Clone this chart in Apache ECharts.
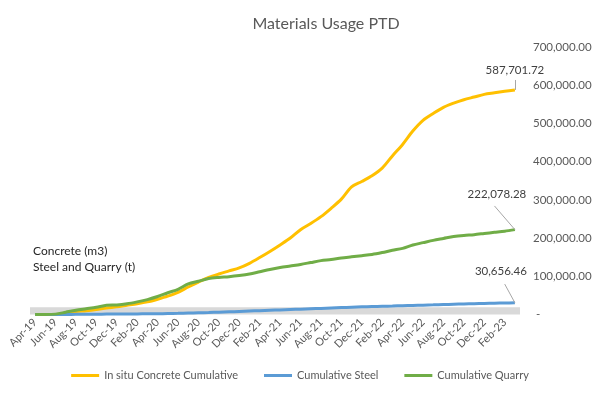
<!DOCTYPE html>
<html lang="en">

<head>
  <meta charset="UTF-8">
  <title>Materials Usage PTD</title>
  <script src="https://cdn.jsdelivr.net/npm/echarts@6/dist/echarts.min.js"></script>
</head>

<body style="margin:0;">
  <div id="main" style="width:600px;height:397px;background-color:#ffffff;"></div>
  <script type="text/javascript">
    // months Apr-19 .. Mar-23
    var months = ['Apr-19', 'May-19', 'Jun-19', 'Jul-19', 'Aug-19', 'Sep-19', 'Oct-19', 'Nov-19', 'Dec-19',
      'Jan-20', 'Feb-20', 'Mar-20', 'Apr-20', 'May-20', 'Jun-20', 'Jul-20', 'Aug-20', 'Sep-20', 'Oct-20', 'Nov-20', 'Dec-20',
      'Jan-21', 'Feb-21', 'Mar-21', 'Apr-21', 'May-21', 'Jun-21', 'Jul-21', 'Aug-21', 'Sep-21', 'Oct-21', 'Nov-21', 'Dec-21',
      'Jan-22', 'Feb-22', 'Mar-22', 'Apr-22', 'May-22', 'Jun-22', 'Jul-22', 'Aug-22', 'Sep-22', 'Oct-22', 'Nov-22', 'Dec-22',
      'Jan-23', 'Feb-23', 'Mar-23'];

    var concrete = [0, 0, 0, 3000, 8000, 10000, 13000, 17000, 20000,
      24000, 28000, 33000, 40000, 48000, 58000, 72000, 85000, 97000, 106000, 114000, 122000,
      134000, 149000, 165000, 182000, 200000, 222000, 238000, 256000, 278000, 302000, 334000, 348000,
      363000, 383000, 415000, 445000, 480000, 508000, 526000, 542000, 553000, 562000, 569000, 576000,
      580000, 584000, 587701.72];

    var steel = [0, 0, 0, 200, 400, 600, 800, 1000, 1200,
      1400, 1600, 1800, 2000, 2500, 3000, 3800, 4500, 5200, 6000, 7000, 8000,
      9000, 10000, 11000, 12000, 13000, 14000, 15000, 16000, 17000, 18000, 19000, 20000,
      20800, 21500, 22200, 23000, 23800, 24500, 25200, 26000, 26800, 27500, 28200, 29000,
      29600, 30100, 30656.46];

    var quarry = [0, 0, 1000, 6000, 11000, 15000, 19000, 24000, 25000,
      28000, 33000, 39000, 47000, 57000, 66000, 80000, 87000, 94000, 97000, 99000, 102000,
      106000, 112000, 118000, 123000, 127000, 131000, 136000, 141000, 144000, 148000, 151000, 154000,
      157000, 162000, 168000, 173000, 182000, 188000, 194000, 199000, 204000, 207000, 209000, 212000,
      215000, 218000, 222078.28];

    var txt = '#595959';
    var fontName = 'Lato';

    function fmt(v) {
      return v.toLocaleString('en-US', { minimumFractionDigits: 2, maximumFractionDigits: 2 });
    }

    // only the last point gets a label
    function lastLabelData(arr) {
      return arr.map(function (v, i) {
        if (i == arr.length - 1) {
          return { value: v, label: { show: true } };
        }
        return v;
      });
    }

    // label offset (px) and leader line end (category index, value rise)
    function lineSeries(name, arr, color, dx, dy, leadIdx, leadRise) {
      var last = arr.length - 1;
      return {
        name: name,
        type: 'line',
        data: lastLabelData(arr),
        smooth: 0.3,
        showSymbol: true,
        symbol: 'circle',
        symbolSize: 0,
        lineStyle: { color: color, width: 3 },
        itemStyle: { color: color },
        label: {
          show: false,
          position: 'top',
          formatter: function (p) { return fmt(p.value); },
          color: '#404040',
          fontFamily: fontName,
          fontSize: 11.5
        },
        labelLayout: { dx: dx, dy: dy },
        markLine: {
          silent: true,
          symbol: 'none',
          label: { show: false },
          lineStyle: { color: '#a6a6a6', width: 1, type: 'solid' },
          data: [[{ coord: [last, arr[last]] }, { coord: [leadIdx, arr[last] + leadRise] }]]
        },
        emphasis: { disabled: true }
      };
    }

    var myChart = echarts.init(document.getElementById('main'));

    var series = [
      lineSeries('In situ Concrete Cumulative', concrete, '#FFC000', 0, -9, 47, 26000),
      lineSeries('Cumulative Steel', steel, '#5B9BD5', -14, -20, 45.5, 49000),
      lineSeries('Cumulative Quarry', quarry, '#70AD47', -18, -24, 45.2, 62000)
    ];
    // grey band along the bottom of the plot
    series[1].markArea = {
      silent: true,
      itemStyle: { color: '#D9D9D9' },
      data: [[{ yAxis: -5000 }, { yAxis: 19000 }]]
    };

    var option = {
      animation: false,
      title: {
        text: 'Materials Usage PTD',
        left: 321,
        textAlign: 'center',
        top: 11,
        textStyle: { color: txt, fontFamily: fontName, fontSize: 16, fontWeight: 'normal' }
      },
      grid: { left: 30, right: 80, top: 47, bottom: 82.5 },
      legend: {
        bottom: 11,
        left: 'center',
        icon: 'rect',
        itemWidth: 28,
        itemHeight: 3,
        itemGap: 26,
        textStyle: { color: txt, fontFamily: fontName, fontSize: 11 },
        data: ['In situ Concrete Cumulative', 'Cumulative Steel', 'Cumulative Quarry']
      },
      graphic: [
        {
          type: 'text', left: 33, top: 243,
          style: { text: 'Concrete (m3)\nSteel and Quarry (t)', fill: '#262626', font: '12px Lato', lineHeight: 16 }
        }
      ],
      xAxis: {
        type: 'category',
        data: months,
        boundaryGap: true,
        axisLine: { show: false },
        axisTick: { show: false },
        axisLabel: {
          interval: 1,
          rotate: 45,
          color: txt,
          fontFamily: fontName,
          fontSize: 11,
          margin: 6
        }
      },
      yAxis: {
        type: 'value',
        position: 'right',
        min: 0,
        max: 700000,
        interval: 100000,
        splitLine: { show: false },
        axisLine: { show: false },
        axisTick: { show: false },
        axisLabel: {
          margin: 13,
          color: txt,
          fontFamily: fontName,
          fontSize: 11.5,
          formatter: function (v) {
            return v == 0 ? ' -' : fmt(v);
          }
        }
      },
      series: series
    };

    myChart.setOption(option);
  </script>
</body>

</html>
